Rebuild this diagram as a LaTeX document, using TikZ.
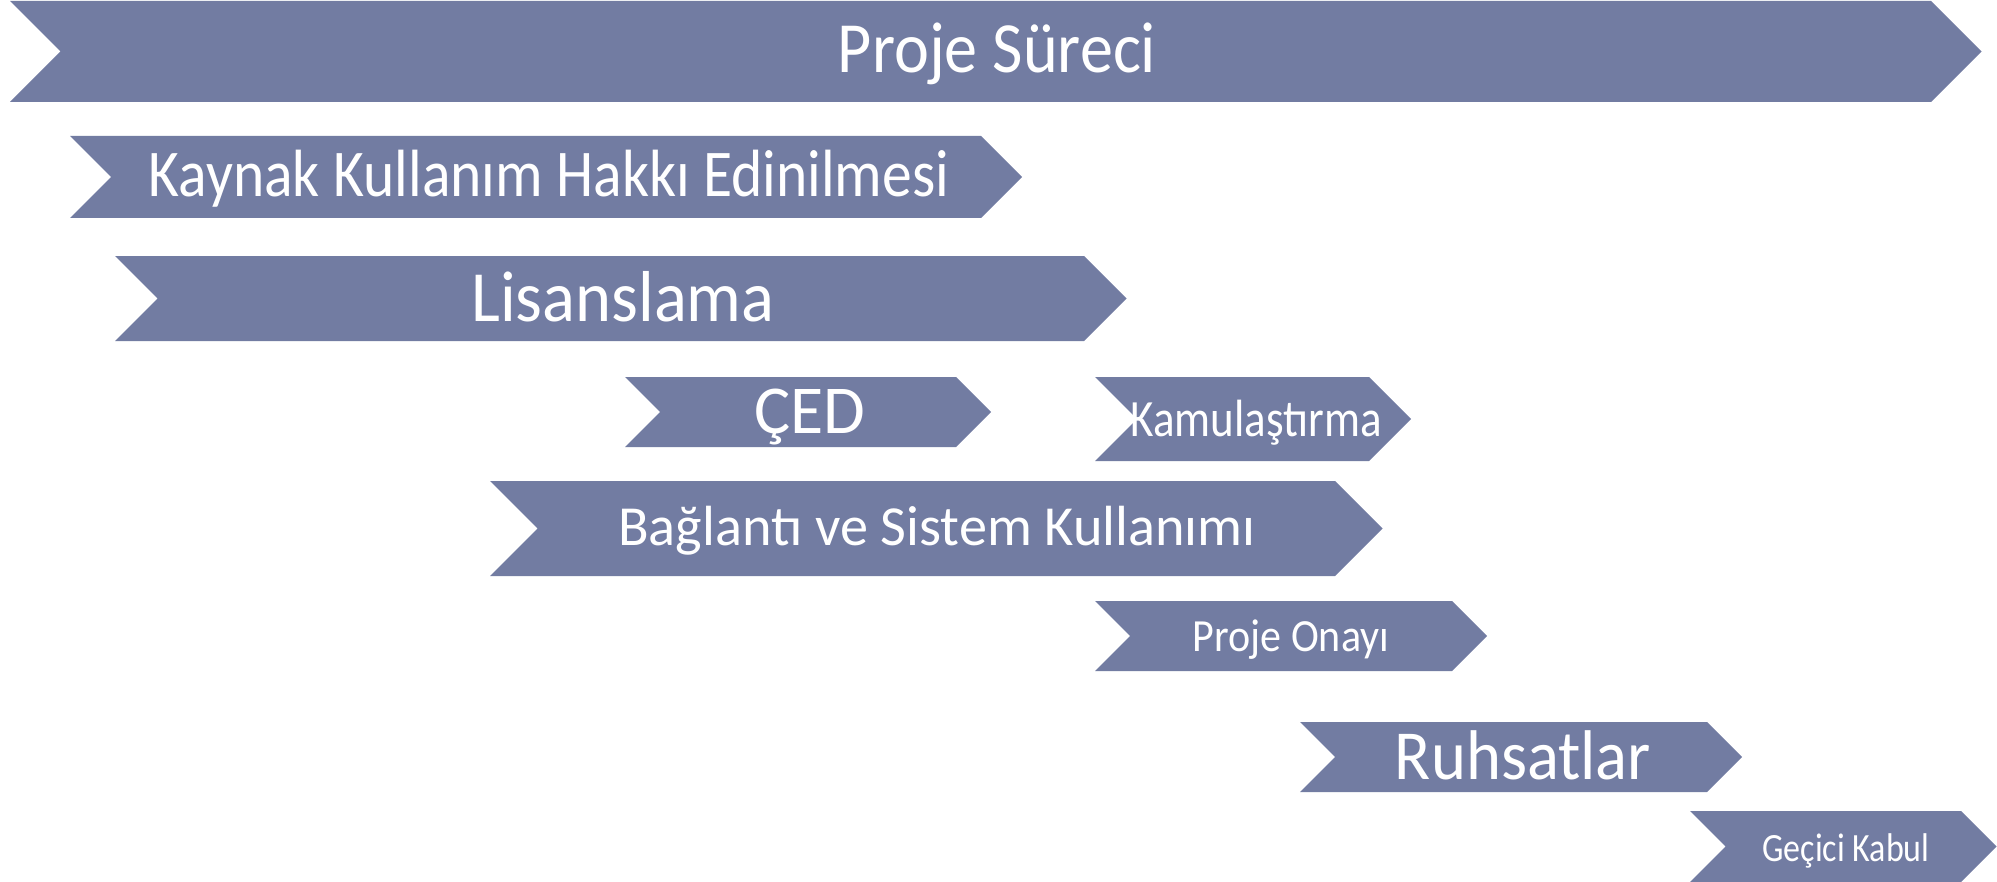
\documentclass[tikz,border=0pt]{standalone}
\usepackage{fontspec}
\setmainfont{Carlito}
\usepackage{graphicx}
\definecolor{chevblue}{RGB}{114,124,162}

% chevron: left x, top y, bottom y, right x of the flat part
\newcommand{\chev}[4]{%
  \pgfmathsetmacro{\chh}{(#3-#2)/2}%
  \fill[chevblue] (#1,#2) -- (#4,#2) -- ++(\chh,\chh) -- (#4,#3) -- (#1,#3) -- ++(\chh,-\chh) -- cycle;}
% text squeezed to a given width
\newcommand{\fitw}[2]{\resizebox{#1}{\height}{#2}}

\begin{document}
\begin{tikzpicture}
      [
        x = 0.01cm, y = -0.01cm,
        lbl/.style = {text=white, inner sep=0pt, anchor=base}
      ]
      \useasboundingbox (0,0) rectangle (1997,882);

      \chev{10}{1}{102}{1931}
      \chev{70}{136}{218}{981}
      \chev{115}{256}{341}{1084}
      \chev{625}{377}{447}{956}
      \chev{1095}{377}{461}{1369}
      \chev{490}{481}{576}{1335}
      \chev{1095}{601}{671}{1452}
      \chev{1300}{722}{792}{1707}
      \chev{1690}{811}{882}{1961}

      \node[lbl, font=\fontsize{20.5}{24}\selectfont] (surec) at (997,73) {\fitw{3.18cm}{Proje Süreci}};
      \node[lbl, font=\fontsize{19}{22}\selectfont] (kaynak) at (549,197) {\fitw{8cm}{Kaynak Kullanım Hakkı Edinilmesi}};
      \node[lbl, font=\fontsize{20.5}{24}\selectfont] (lisans) at (623,321) {\fitw{3.03cm}{Lisanslama}};
      \node[lbl, font=\fontsize{19.5}{23}\selectfont] (ced) at (810,433) {\fitw{1.11cm}{ÇED}};
      \node[lbl, font=\fontsize{14.9}{18}\selectfont] (kamu) at (1256,436) {\fitw{2.51cm}{Kamulaştırma}};
      \node[lbl, font=\fontsize{16.1}{19}\selectfont] (baglanti) at (937,545) {\fitw{6.37cm}{Bağlantı ve Sistem Kullanımı}};
      \node[lbl, font=\fontsize{13.1}{16}\selectfont] (onay) at (1291,651) {\fitw{1.96cm}{Proje Onayı}};
      \node[lbl, font=\fontsize{20}{24}\selectfont] (ruhsat) at (1523,779) {\fitw{2.56cm}{Ruhsatlar}};
      \node[lbl, font=\fontsize{11.4}{14}\selectfont] (kabul) at (1846,861) {\fitw{1.67cm}{Geçici Kabul}};

    \end{tikzpicture}
\end{document}
